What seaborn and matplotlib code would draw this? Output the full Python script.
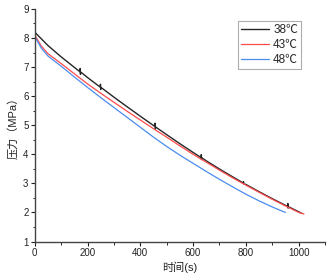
import numpy as np
import pandas as pd
import seaborn as sns
from matplotlib import pyplot as plt
from matplotlib.ticker import MultipleLocator

sns.set_style("ticks")
plt.rcParams['font.family'] = ['Liberation Sans', 'Noto Sans CJK SC', 'DejaVu Sans']

# 38 C (black), with the small spikes seen in the trace
t_38 = [0, 50, 100, 150, 171, 172, 173, 174, 200, 248, 249, 250, 251, 300, 350, 400, 450,
        455, 456, 457, 458, 500, 550, 600, 630, 631, 632, 633, 650, 700, 750, 790, 791, 792,
        800, 850, 900, 950, 958, 959, 960, 961, 1000, 1010]
p_38 = [8.20, 7.74, 7.35, 6.99, 6.84, 6.95, 6.75, 6.83, 6.64, 6.31, 6.41, 6.23, 6.30, 5.965,
        5.635, 5.31, 4.99, 4.96, 5.07, 4.87, 4.94, 4.675, 4.365, 4.065, 3.89, 3.99, 3.82, 3.88,
        3.775, 3.495, 3.225, 3.015, 3.06, 2.98, 2.965, 2.715, 2.475, 2.245, 2.21, 2.31, 2.15,
        2.20, 2.025, 1.98]

# 43 C (red)
t_43 = [0, 25, 50, 100, 150, 200, 250, 300, 350, 400, 450, 500, 550, 600, 650, 700, 750, 800,
        850, 900, 950, 1000, 1020]
p_43 = [8.10, 7.72, 7.46, 7.12, 6.77, 6.42, 6.10, 5.79, 5.48, 5.18, 4.88, 4.59, 4.29, 4.00,
        3.73, 3.455, 3.19, 2.94, 2.695, 2.455, 2.225, 2.005, 1.95]

# 48 C (blue)
t_48 = [0, 25, 50, 100, 150, 200, 250, 300, 350, 400, 450, 500, 550, 600, 650, 700, 750, 800,
        850, 900, 950]
p_48 = [8.05, 7.65, 7.38, 7.03, 6.66, 6.30, 5.95, 5.61, 5.27, 4.93, 4.59, 4.27, 3.97, 3.69,
        3.41, 3.14, 2.88, 2.63, 2.40, 2.19, 2.00]

labels = ["38℃", "43℃", "48℃"]
colors = ["#262626", "#ff4a4a", "#4a8cf0"]

fig = plt.figure(figsize=(3.28, 2.78), dpi=100)
ax = fig.add_axes([0.106, 0.131, 0.885, 0.837])

for t, p, lab, c, lw in zip([t_38, t_43, t_48], [p_38, p_43, p_48], labels, colors,
                            [1.0, 0.9, 0.9]):
    sns.lineplot(x=t, y=p, ax=ax, color=c, label=lab, linewidth=lw,
                 estimator=None, sort=False)

ax.set_xlim(0, 1100)
ax.set_ylim(1, 9)
ax.xaxis.set_major_locator(MultipleLocator(200))
ax.xaxis.set_minor_locator(MultipleLocator(100))
ax.yaxis.set_major_locator(MultipleLocator(1))
ax.yaxis.set_minor_locator(MultipleLocator(0.5))
ax.tick_params(which='major', length=3, width=0.8, labelsize=7, pad=1.5, colors='#222222')
ax.tick_params(which='minor', length=1.8, width=0.7)
for s in ['top', 'right']:
    ax.spines[s].set_visible(False)
for s in ['left', 'bottom']:
    ax.spines[s].set_color('#444444')
    ax.spines[s].set_linewidth(1.0)

ax.set_xlabel("时间(s)", fontsize=8, labelpad=2.5, color='#222222')
ax.set_ylabel("压力（MPa）", fontsize=8, labelpad=3.5, color='#222222')

leg = ax.legend(loc='upper right', bbox_to_anchor=(0.917, 0.948), fontsize=8.5,
                frameon=True, fancybox=False, handlelength=2.4, handletextpad=0.35,
                borderpad=0.25, labelspacing=0.25, borderaxespad=0)
leg.get_frame().set_edgecolor('#999999')
leg.get_frame().set_linewidth(0.8)

plt.savefig("out.png", dpi=100)
